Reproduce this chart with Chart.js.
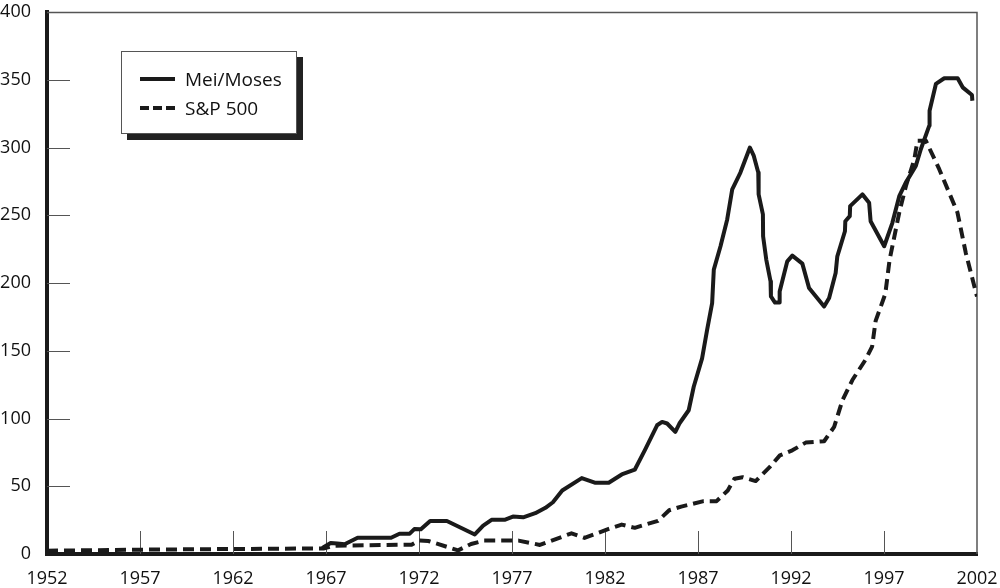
<!DOCTYPE html>
<html>
<head>
<meta charset="utf-8">
<script src="https://cdn.jsdelivr.net/npm/chart.js@4.4.1/dist/chart.umd.min.js"></script>
<style>
  html, body { margin: 0; padding: 0; background: #fff; }
  #wrap { position: relative; width: 1000px; height: 588px; }
  #legend {
    position: absolute; left: 121px; top: 51px; width: 174px; height: 81px;
    border: 1px solid #555; background: #fff; box-shadow: 6px 6px 0 #222;
    font-family: "Open Sans", sans-serif; font-size: 19px; color: #111;
  }
  .item { position: absolute; left: 18px; height: 24px; display: flex; align-items: center; }
  .item svg { margin-right: 10px; }
</style>
</head>
<body>
<div id="wrap">
  <canvas id="c" width="1000" height="588"></canvas>
  <div id="legend">
    <div class="item" style="top:15px;"><svg width="35" height="6"><line x1="0" y1="3" x2="35" y2="3" stroke="#1a1a1a" stroke-width="4"/></svg><span>Mei/Moses</span></div>
    <div class="item" style="top:44px;"><svg width="35" height="6"><line x1="0" y1="3" x2="35" y2="3" stroke="#1a1a1a" stroke-width="4" stroke-dasharray="9 4"/></svg><span>S&amp;P 500</span></div>
  </div>
</div>
<script>
const seriesNames = ["Mei/Moses", "S&P 500"];
const meiYears = [1966.8, 1967.25, 1967.6, 1968.0, 1968.7, 1970.5, 1970.95, 1971.5, 1971.75, 1972.1,
  1972.6, 1973.5, 1975.0, 1975.45, 1975.9, 1976.6, 1977.05, 1977.6, 1978.25, 1978.8,
  1979.2, 1979.7, 1980.75, 1981.45, 1982.2, 1982.9, 1983.6, 1984.15, 1984.8, 1985.07,
  1985.34, 1985.78, 1986.0, 1986.5, 1986.77, 1987.22, 1987.49, 1987.76, 1987.85, 1988.21,
  1988.57, 1988.84, 1989.28, 1989.79, 1990.0, 1990.24, 1990.26, 1990.49, 1990.5, 1990.67,
  1990.9, 1990.92, 1991.14, 1991.37, 1991.39, 1991.8, 1992.07, 1992.61, 1992.97, 1993.78,
  1994.05, 1994.4, 1994.49, 1994.9, 1994.92, 1995.16, 1995.18, 1995.84, 1996.2, 1996.28,
  1997.01, 1997.45, 1997.82, 1998.17, 1998.71, 1998.98, 1999.43, 1999.45, 1999.79, 2000.24,
  2000.96, 2001.23, 2001.73, 2001.75];
const meiValues = [4.5, 8.1, 7.8, 7.2, 12, 12, 15, 15, 18.4, 18.2,
  24.4, 24.4, 14.4, 21, 25.2, 25.2, 27.6, 27.1, 30.1, 34.1,
  38.2, 46.9, 56, 52.6, 52.6, 58.7, 62.2, 76.9, 95, 97.5,
  96.3, 90.1, 96.3, 106.1, 123.4, 144.4, 165.4, 185.2, 209.9, 227.1,
  246.9, 269.1, 281.5, 300, 293.8, 281.5, 265.4, 250.6, 234.5, 217.3,
  201.2, 190.1, 185.6, 185.6, 193.8, 216, 220.2, 214.3, 196.3, 182.7,
  188.9, 207.4, 219.7, 238.2, 245.6, 249.3, 256.7, 265.4, 259.3, 245.6,
  227.1, 244.4, 264.1, 274.1, 286.4, 298.7, 316, 327.1, 346.9, 351.1,
  351.1, 344.4, 338.7, 334.5];
const spYears = [1952.0, 1957.0, 1962.0, 1966.9, 1967.4, 1971.6, 1972.0, 1972.5, 1974.1, 1974.8,
  1975.5, 1977.35, 1978.5, 1980.2, 1980.9, 1982.2, 1982.9, 1983.6, 1984.85, 1985.45,
  1986.1, 1987.3, 1988.0, 1988.6, 1988.96, 1989.4, 1990.1, 1990.85, 1991.4, 1992.07,
  1992.79, 1993.78, 1994.32, 1994.77, 1995.3, 1996.0, 1996.36, 1996.55, 1997.07, 1997.3,
  1997.82, 1998.18, 1998.63, 1998.8, 1999.25, 1999.97, 2000.95, 2001.4, 2002.0];
const spValues = [2.4, 3.2, 3.7, 4.1, 6.1, 6.9, 9.9, 9.6, 2.7, 7.4,
  9.9, 9.9, 6.7, 15.3, 11.9, 18.5, 21.7, 19.3, 24.5, 32.3,
  35, 39, 39, 46.9, 55.6, 56.7, 53.8, 64.1, 72.8, 76.5,
  82.2, 83.2, 93.8, 113.6, 128.4, 143.2, 153, 172, 192, 217,
  252, 271.6, 291.3, 305, 305, 284, 252, 222, 190];
const xTickYears = [1952, 1957, 1962, 1967, 1972, 1977, 1982, 1987, 1992, 1997, 2002];
const yTickValues = [0, 50, 100, 150, 200, 250, 300, 350, 400];

const ink = '#111';
const font = { family: '"Open Sans", sans-serif', size: 18 };

const frame = {
  id: 'frame',
  beforeDatasetsDraw(chart) {
    const { ctx, chartArea: a, scales } = chart;
    ctx.save();
    ctx.strokeStyle = '#555';
    ctx.lineWidth = 1;
    ctx.beginPath();
    yTickValues.slice(1, -1).forEach(v => {
      const y = Math.round(scales.y.getPixelForValue(v)) + 0.5;
      ctx.moveTo(a.left, y); ctx.lineTo(a.left + 23, y);
    });
    xTickYears.slice(1, -1).forEach(v => {
      const x = Math.round(scales.x.getPixelForValue(v)) + 0.5;
      ctx.moveTo(x, a.bottom); ctx.lineTo(x, a.bottom - 23);
    });
    ctx.stroke();
    ctx.lineWidth = 1.5;
    ctx.beginPath();
    ctx.moveTo(a.left, a.top + 0.5); ctx.lineTo(a.right, a.top + 0.5); ctx.lineTo(a.right, a.bottom);
    ctx.stroke();
    ctx.restore();
  }
};

new Chart(document.getElementById('c'), {
  type: 'line',
  data: {
    datasets: [
      {
        label: seriesNames[0],
        data: meiYears.map((x, i) => ({ x, y: meiValues[i] })),
        borderColor: '#1a1a1a', borderWidth: 4, pointRadius: 0, tension: 0, fill: false,
        borderJoinStyle: 'round', borderCapStyle: 'butt'
      },
      {
        label: seriesNames[1],
        data: spYears.map((x, i) => ({ x, y: spValues[i] })),
        borderColor: '#1a1a1a', borderWidth: 4, pointRadius: 0, tension: 0, fill: false,
        borderDash: [11, 6], borderJoinStyle: 'round'
      }
    ]
  },
  options: {
    responsive: false,
    animation: false,
    devicePixelRatio: 1,
    layout: { padding: { top: 12, right: 23, left: 0, bottom: 0 } },
    plugins: { legend: { display: false }, tooltip: { enabled: false } },
    scales: {
      x: {
        type: 'linear', min: 1952, max: 2002,
        afterBuildTicks: s => { s.ticks = xTickYears.map(v => ({ value: v })); },
        afterFit: s => { s.height = 34; s.paddingLeft = 0; s.paddingRight = 0; },
        ticks: { font, color: ink, padding: 6, maxRotation: 0, autoSkip: false, callback: v => String(v) },
        grid: { display: false },
        border: { display: true, color: '#1a1a1a', width: 4 }
      },
      y: {
        type: 'linear', min: 0, max: 400,
        afterBuildTicks: s => { s.ticks = yTickValues.map(v => ({ value: v })); },
        afterFit: s => { s.width = 47; s.paddingTop = 0; s.paddingBottom = 0; },
        ticks: { font, color: ink, padding: 8, autoSkip: false },
        grid: { display: false },
        border: { display: true, color: '#1a1a1a', width: 4 }
      }
    }
  },
  plugins: [frame]
});
</script>
</body>
</html>
